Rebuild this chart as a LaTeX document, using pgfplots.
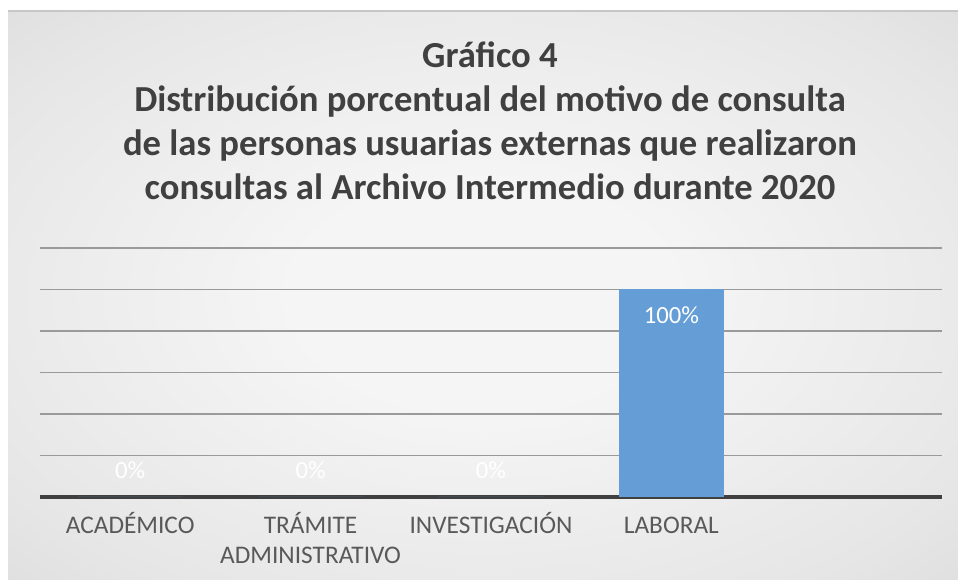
\documentclass[border=0pt]{standalone}
\usepackage{pgfplots}
\pgfplotsset{compat=1.18}
\usepackage{fontspec}
\setmainfont{Carlito}
\definecolor{barblue}{HTML}{659ED6}
\definecolor{gridc}{HTML}{9A9A9A}
\definecolor{axisc}{HTML}{404040}
\definecolor{titlec}{HTML}{404040}
\definecolor{tickc}{HTML}{595959}
\definecolor{bga}{HTML}{F5F5F5}
\definecolor{bgb}{HTML}{E6E6E6}
\definecolor{bgc}{HTML}{D0D0D0}
\pgfdeclareradialshading{bgshade}{\pgfpoint{0bp}{0bp}}{color(0bp)=(bga); color(10bp)=(bga); color(30bp)=(bgb); color(50bp)=(bgc)}
\begin{document}
\begin{tikzpicture}[x=0.75pt,y=0.75pt]
\useasboundingbox (0,0) rectangle (958,580);
\fill[white] (0,0) rectangle (958,580);
\shade[shading=bgshade] (8,0) rectangle (958,569);
\draw[black!22, line width=0.8pt] (8,569) -- (958,569);
\begin{axis}[
  at={(30pt,62.25pt)}, anchor=south west,
  scale only axis, width=676.5pt, height=186.75pt,
  ymin=0, ymax=120, xmin=-0.5, xmax=4.5,
  ytick={0,20,...,120}, yticklabels={},
  ymajorgrids, major grid style={gridc, line width=0.8pt},
  axis x line*=bottom, axis y line*=left,
  y axis line style={draw=none},
  x axis line style={axisc, line width=2.4pt},
  major tick length=0pt,
  xtick={0,...,4},
  xticklabels={{\rule{0pt}{16pt}ACADÉMICO}, {\rule{0pt}{16pt}TRÁMITE\\ADMINISTRATIVO}, {\rule{0pt}{16pt}INVESTIGACIÓN}, {\rule{0pt}{16pt}LABORAL}, {}},
  xticklabel style={align=center, font=\fontsize{19}{22.5}\selectfont, text=tickc, anchor=north, yshift=-8pt},
  /pgf/number format/assume math mode=true,
  ybar, bar width=0.58,
  clip=false,
]
\addplot[fill=barblue, draw=none, bar shift=0pt,
  nodes near coords={\pgfmathprintnumber{\pgfplotspointmeta}\%},
  every node near coord/.append style={font=\fontsize{18.5}{20}\selectfont, text=white, anchor=center, yshift=20pt}]
  coordinates {(0,0) (1,0) (2,0)};
\addplot[fill=barblue, draw=none, bar shift=0pt,
  nodes near coords={\pgfmathprintnumber{\pgfplotspointmeta}\%},
  every node near coord/.append style={font=\fontsize{18.5}{20}\selectfont, text=white, anchor=center, yshift=-19.5pt}]
  coordinates {(3,100)};
\end{axis}
\begin{scope}[font=\fontsize{27.5}{33}\selectfont\bfseries, text=titlec]
\node[anchor=base] at (490,512) {Gráfico 4};
\node[anchor=base] at (490,468) {Distribución porcentual del motivo de consulta};
\node[anchor=base] at (490,424) {de las personas usuarias externas que realizaron};
\node[anchor=base] at (490,380) {consultas al Archivo Intermedio durante 2020};
\end{scope}
\end{tikzpicture}
\end{document}
